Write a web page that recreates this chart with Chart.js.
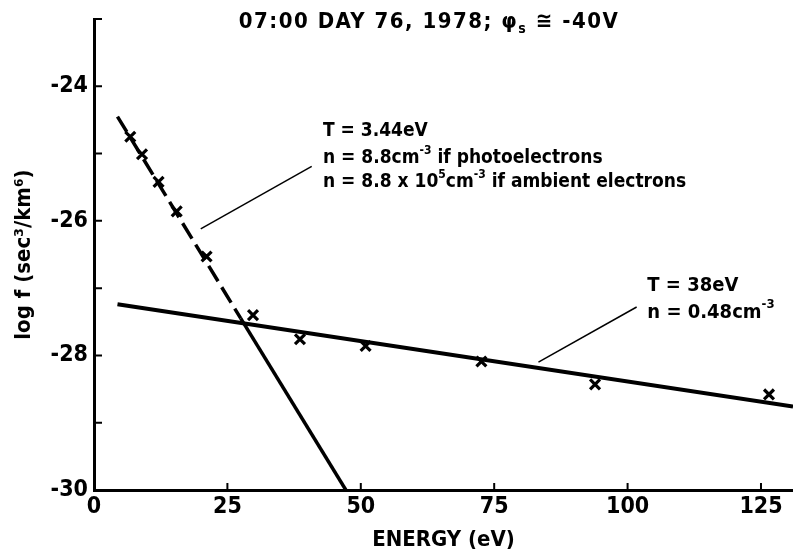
<!DOCTYPE html>
<html>
<head>
<meta charset="utf-8">
<script src="https://cdn.jsdelivr.net/npm/chart.js@4.4.1/dist/chart.umd.min.js"></script>
<style>
  html, body { margin: 0; padding: 0; background: #fff; }
</style>
</head>
<body>
<canvas id="distChart" width="793" height="553"></canvas>
<script>
// measured points (the x marks)
const energy = [6.8, 9.0, 12.1, 15.5, 21.1, 29.8, 38.6, 50.9, 72.6, 93.9, 126.5];
const logF = [-24.75, -25.01, -25.42, -25.86, -26.53, -27.40, -27.76, -27.86, -28.09, -28.43, -28.58];

// fitted lines (cold one is dashed up to the 2nd point)
const coldFitE = [4.4, 27.5, 47.2];
const coldFitF = [-24.45, -27.45, -30.0];
const hotFitE = [4.4, 131];
const hotFitF = [-27.24, -28.76];

// leader lines pointing at the notes
const coldLeaderE = [20.0, 40.8];
const coldLeaderF = [-26.12, -25.19];
const hotLeaderE = [83.3, 101.7];
const hotLeaderF = [-28.10, -27.28];

// axes
const xTicks = [0, 25, 50, 75, 100, 125];
const yTicks = [-30, -29, -28, -27, -26, -25, -24, -23];
const yLabelled = [-30, -28, -26, -24];

const FONT = "'DejaVu Sans Condensed', 'Liberation Sans Narrow', 'DejaVu Sans', sans-serif";

function pts(xs, ys) {
    return xs.map((v, i) => ({ x: v, y: ys[i] }));
}

// draws text with sup / sub parts
function drawRich(ctx, x, y, parts, size, align, spacing) {
    const fontFor = p => 'bold ' + (p.sup || p.sub ? Math.round(size * 0.65) : size) + 'px ' + FONT;
    ctx.letterSpacing = (spacing || 0) + 'px';
    let total = 0;
    parts.forEach(p => { ctx.font = fontFor(p); total += ctx.measureText(p.t).width; });
    let cx = align === 'center' ? x - total / 2 : x;
    ctx.textAlign = 'left';
    ctx.textBaseline = 'middle';
    parts.forEach(p => {
        ctx.font = fontFor(p);
        const dy = p.sup ? -size * 0.38 : (p.sub ? size * 0.32 : 0);
        ctx.fillText(p.t, cx, y + dy);
        cx += ctx.measureText(p.t).width;
    });
    ctx.letterSpacing = '0px';
}

// inward tick marks like the original
const tickMarks = {
    id: 'tickMarks',
    afterDraw(chart) {
        const { ctx, chartArea: a, scales: { x, y } } = chart;
        ctx.save();
        ctx.strokeStyle = '#000';
        ctx.lineWidth = 2;
        ctx.beginPath();
        xTicks.slice(1).forEach(v => {
            const px = x.getPixelForValue(v);
            ctx.moveTo(px, a.bottom);
            ctx.lineTo(px, a.bottom - 7);
        });
        yTicks.forEach(v => {
            const py = y.getPixelForValue(v);
            ctx.moveTo(a.left, py);
            ctx.lineTo(a.left + 8, py);
        });
        ctx.stroke();
        ctx.restore();
    }
};

// title and the text notes
const notes = {
    id: 'notes',
    afterDraw(chart) {
        const { ctx, scales: { x, y } } = chart;
        ctx.save();
        ctx.fillStyle = '#000';

        drawRich(ctx, 429, 22, [
            { t: '07:00 DAY 76, 1978; \u03C6' }, { t: 's', sub: true }, { t: ' \u2245 -40V' }
        ], 22, 'center', 1.5);

        const lx = x.getPixelForValue(42.9);
        drawRich(ctx, lx, y.getPixelForValue(-24.66), [{ t: 'T = 3.44eV' }], 19);
        drawRich(ctx, lx, y.getPixelForValue(-25.07), [
            { t: 'n = 8.8cm' }, { t: '-3', sup: true }, { t: ' if photoelectrons' }
        ], 19);
        drawRich(ctx, lx, y.getPixelForValue(-25.43), [
            { t: 'n = 8.8 x 10' }, { t: '5', sup: true }, { t: 'cm' }, { t: '-3', sup: true },
            { t: ' if ambient electrons' }
        ], 19);

        const rx = x.getPixelForValue(103.7);
        drawRich(ctx, rx, y.getPixelForValue(-26.97), [{ t: 'T = 38eV' }], 20);
        drawRich(ctx, rx, y.getPixelForValue(-27.36), [
            { t: 'n = 0.48cm' }, { t: '-3', sup: true }
        ], 20);
        ctx.restore();
    }
};

const data = {
    datasets: [
        {
            label: 'cold fit',
            data: pts(coldFitE, coldFitF),
            showLine: true,
            borderColor: '#000',
            borderWidth: 3.5,
            pointRadius: 0,
            segment: {
                borderDash: ctx => ctx.p0DataIndex === 0 ? [18, 7] : undefined
            }
        },
        {
            label: 'hot fit',
            data: pts(hotFitE, hotFitF),
            showLine: true,
            borderColor: '#000',
            borderWidth: 4,
            pointRadius: 0
        },
        {
            label: 'cold leader',
            data: pts(coldLeaderE, coldLeaderF),
            showLine: true,
            borderColor: '#000',
            borderWidth: 1.5,
            pointRadius: 0
        },
        {
            label: 'hot leader',
            data: pts(hotLeaderE, hotLeaderF),
            showLine: true,
            borderColor: '#000',
            borderWidth: 1.5,
            pointRadius: 0
        },
        {
            label: 'measured',
            data: pts(energy, logF),
            showLine: false,
            pointStyle: 'crossRot',
            pointRadius: 7,
            borderColor: '#000',
            borderWidth: 3.2
        }
    ]
};

const config = {
    type: 'scatter',
    data: data,
    options: {
        responsive: false,
        animation: false,
        layout: { autoPadding: false, padding: { top: 19, right: 0, bottom: 0, left: 0 } },
        plugins: {
            legend: { display: false },
            tooltip: { enabled: false }
        },
        scales: {
            x: {
                type: 'linear',
                min: 0,
                max: 131,
                afterBuildTicks: s => { s.ticks = xTicks.map(v => ({ value: v })); },
                afterFit: s => { s.height = 63; s.paddingLeft = 0; s.paddingRight = 0; },
                grid: { display: false, drawTicks: false },
                border: { color: '#000', width: 3 },
                ticks: {
                    color: '#000',
                    font: { family: FONT, size: 23, weight: 'bold' },
                    padding: 3,
                    maxRotation: 0,
                    autoSkip: false
                },
                title: {
                    display: true,
                    text: 'ENERGY (eV)',
                    color: '#000',
                    font: { family: FONT, size: 22, weight: 'bold' },
                    padding: { top: 0, bottom: 0 }
                }
            },
            y: {
                type: 'linear',
                min: -30,
                max: -23,
                afterBuildTicks: s => { s.ticks = yTicks.map(v => ({ value: v })); },
                afterFit: s => { s.width = 94; s.paddingTop = 0; s.paddingBottom = 0; },
                grid: { display: false, drawTicks: false },
                border: { color: '#000', width: 3 },
                ticks: {
                    color: '#000',
                    font: { family: FONT, size: 23, weight: 'bold' },
                    padding: 6,
                    autoSkip: false,
                    callback: v => yLabelled.includes(v) ? String(v) : ''
                },
                title: {
                    display: true,
                    text: 'log f (sec\u00B3/km\u2076)',
                    color: '#000',
                    font: { family: FONT, size: 22, weight: 'bold' },
                    padding: { top: 11, bottom: 0 }
                }
            }
        }
    },
    plugins: [tickMarks, notes]
};

const distChart = document.getElementById('distChart').getContext('2d');
new Chart(distChart, config);
</script>
</body>
</html>
